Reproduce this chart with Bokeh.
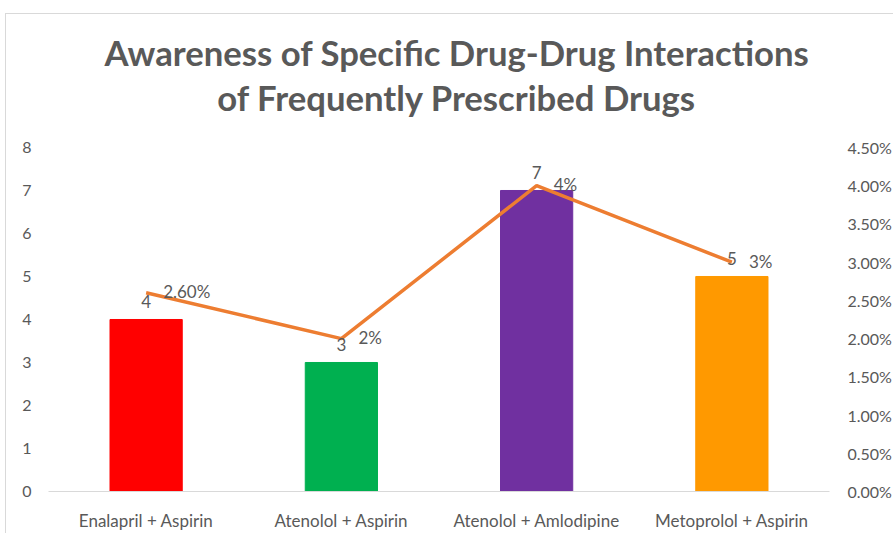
from bokeh.plotting import figure
from bokeh.models import (ColumnDataSource, Range1d, LinearAxis, FixedTicker,
                          NumeralTickFormatter, FactorRange)
from bokeh.core.properties import value
from bokeh.embed import file_html
from bokeh.resources import INLINE

# --- data ---------------------------------------------------------------
drug_pairs = ["Enalapril + Aspirin", "Atenolol + Aspirin",
              "Atenolol + Amlodipine", "Metoprolol + Aspirin"]
aware_counts = [4, 3, 7, 5]
aware_pct = [2.6, 2.0, 4.0, 3.0]          # percent
pct_labels = ["2.60%", "2%", "4%", "3%"]
bar_colors = ["#FF0000", "#00B050", "#7030A0", "#FF9900"]
count_ticks = [0, 1, 2, 3, 4, 5, 6, 7, 8]
pct_ticks = [0.0, 0.5, 1.0, 1.5, 2.0, 2.5, 3.0, 3.5, 4.0, 4.5]   # percent
title_lines = ["Awareness of Specific Drug-Drug Interactions",
               "of Frequently Prescribed Drugs"]

FONT = "Lato"
GREY = "#595959"

src = ColumnDataSource(dict(
    pair=drug_pairs,
    count=aware_counts,
    count_txt=[str(c) for c in aware_counts],
    pct=[v / 100 for v in aware_pct],
    pct_txt=pct_labels,
    color=bar_colors,
))

# The plotting frame reaches to the top of the chart box so that the
# two-line heading sits inside it; the value axes only tick 0..8 / 0..4.5 %.
AXIS_TOP = 8
Y_TOP = 11.093
p = figure(
    width=888, height=520,
    x_range=FactorRange(*drug_pairs),
    y_range=Range1d(0, Y_TOP),
    output_backend="svg", toolbar_location=None,
    min_border_left=42, min_border_right=64,
    min_border_top=0, min_border_bottom=43,
)
p.styles = {"margin-left": "5px", "margin-top": "13px",
            "border-left": "1px solid #D9D9D9", "border-top": "1px solid #D9D9D9"}
p.outline_line_color = None
p.xgrid.visible = False
p.ygrid.visible = False
p.background_fill_color = "white"
p.border_fill_color = "white"

# secondary (percentage) scale on the right, aligned so 4.5 % meets 8
pct_max = pct_ticks[-1] / 100
p.extra_y_ranges = {"pct": Range1d(0, pct_max * Y_TOP / AXIS_TOP)}

# bars
p.vbar(x="pair", top="count", width=0.37, color="color", source=src)

# percentage line
p.line(x="pair", y="pct", y_range_name="pct", line_color="#ED7D31",
       line_width=3.5, source=src)

# bar value labels
p.text(x="pair", y="count", text="count_txt", source=src,
       text_font=value(FONT), text_font_size="17px", text_color=GREY,
       text_align="center", text_baseline="bottom", y_offset=-11)

# line value labels
p.text(x="pair", y="pct", y_range_name="pct", text="pct_txt", source=src,
       text_font=value(FONT), text_font_size="17px", text_color=GREY,
       text_align="left", text_baseline="middle", x_offset=17, y_offset=-1)

# axes
left = p.yaxis[0]
left.ticker = FixedTicker(ticks=count_ticks)
right = LinearAxis(y_range_name="pct",
                   ticker=FixedTicker(ticks=[t / 100 for t in pct_ticks]),
                   formatter=NumeralTickFormatter(format="0.00%"))
p.add_layout(right, "right")

for ax in (left, right):
    ax.axis_line_color = None
    ax.major_tick_line_color = None
    ax.minor_tick_line_color = None
    ax.major_tick_out = 0
    ax.minor_tick_out = 0
    ax.major_label_text_font = FONT
    ax.major_label_text_font_size = "16px"
    ax.major_label_text_color = GREY
left.major_label_standoff = 17
right.major_label_standoff = 18

xa = p.xaxis[0]
xa.axis_line_color = "#D9D9D9"
xa.axis_line_width = 1
xa.major_tick_line_color = None
xa.minor_tick_line_color = None
xa.major_tick_out = 0
xa.major_label_text_font = FONT
xa.major_label_text_font_size = "17px"
xa.major_label_text_color = GREY
xa.major_label_standoff = 18

# two-line heading, centred on the chart box
p.text(x=[2.092, 2.092], y=[10.22, 9.17], text=title_lines,
       text_font=value(FONT), text_font_style="bold", text_font_size="34.7px",
       text_color=GREY, text_align="center", text_baseline="alphabetic")

open("out.html", "w").write(file_html(p, INLINE))
